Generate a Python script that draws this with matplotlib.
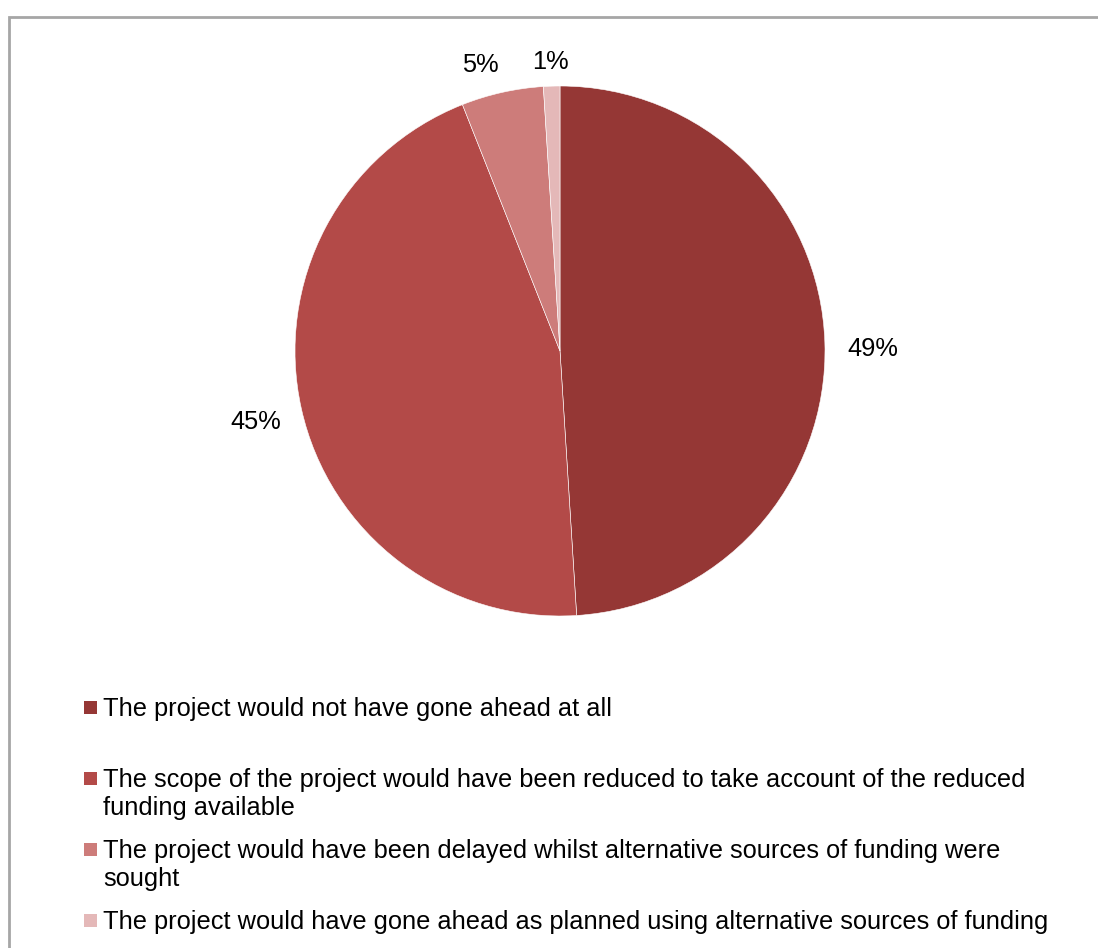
import numpy as np
import matplotlib.pyplot as plt
from matplotlib.patches import Rectangle

plt.rcParams['font.family'] = ['Liberation Sans', 'DejaVu Sans']

categories = [
    "The project would not have gone ahead at all",
    "The scope of the project would have been reduced to take account of the reduced\nfunding available",
    "The project would have been delayed whilst alternative sources of funding were\nsought",
    "The project would have gone ahead as planned using alternative sources of funding",
]
shares = [49, 45, 5, 1]
pct_labels = ["49%", "45%", "5%", "1%"]
colors = ["#953735", "#B34A48", "#CD7C7A", "#E4B8B8"]
label_dist = [1.18, 1.18, 1.12, 1.09]
label_turn = [-1.5, 0.5, 3.0, 0.0]   # small angular nudges, degrees

W, H = 1098, 948
FS = 18.3
fig = plt.figure(figsize=(W / 100, H / 100), dpi=100)

# outer chart frame (only top/left edges visible in the crop)
fig.patches.append(Rectangle((9 / W, -0.05), 1.2, 1.05 - 17 / H,
                             transform=fig.transFigure, fill=False,
                             edgecolor="#A6A6A6", linewidth=2))

# pie axes: centre ~(560, 351) px, radius ~265 px
r = 265
ax = fig.add_axes([(560 - r) / W, 1 - (351 + r) / H, 2 * r / W, 2 * r / H])
wedges, texts = ax.pie(shares, colors=colors, startangle=90, counterclock=False,
                       labels=pct_labels, radius=1,
                       wedgeprops=dict(edgecolor="white", linewidth=0.4),
                       textprops=dict(fontsize=FS, color="black"))
for w, t, d, da in zip(wedges, texts, label_dist, label_turn):
    ang = np.deg2rad((w.theta1 + w.theta2) / 2 + da)
    t.set_position((d * np.cos(ang), d * np.sin(ang)))
    t.set_ha("center")
    t.set_va("center")
ax.set_xlim(-1, 1)
ax.set_ylim(-1, 1)
ax.axis("off")

# legend, laid out like the original (first line baseline every 71 px)
for i, (lab, c) in enumerate(zip(categories, colors)):
    base = 716 + 71 * i
    fig.patches.append(Rectangle((84 / W, 1 - (base - 2) / H), 13 / W, 13 / H,
                                 transform=fig.transFigure, facecolor=c,
                                 edgecolor="none"))
    for j, line in enumerate(lab.split("\n")):
        fig.text(103 / W, 1 - (base + 28 * j) / H, line, fontsize=FS,
                 va="baseline", ha="left", color="black")

fig.savefig("out.png", dpi=100)
